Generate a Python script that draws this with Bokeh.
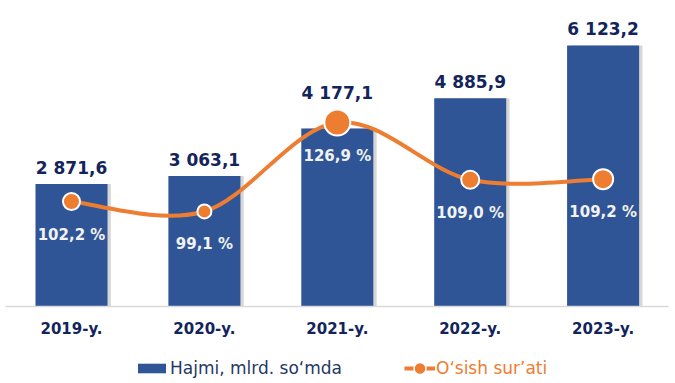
from bokeh.plotting import figure
from bokeh.models import (Range1d, FixedTicker, ColumnDataSource, Legend, LegendItem)
from bokeh.layouts import column
from bokeh.core.properties import value
from bokeh.embed import file_html
from bokeh.resources import INLINE

# ---- data ----
years = ["2019-y.", "2020-y.", "2021-y.", "2022-y.", "2023-y."]
volume = [2871.6, 3063.1, 4177.1, 4885.9, 6123.2]      # Hajmi, mlrd. so'mda
growth = [102.2, 99.1, 126.9, 109.0, 109.2]            # O'sish sur'ati, %

# ---- styles ----
marker_sizes = [17, 14, 26, 18, 20]
value_label_dy = [-16, -16, -35, -16, -16]
BAR = "#2F5597"
ORANGE = "#ED7D31"
NAVY = "#13245A"
FONT = "DejaVu Sans"

def fmt_vol(v):
    s = f"{v:,.1f}"
    return s.replace(",", " ").replace(".", ",")

def fmt_pct(v):
    return f"{v:.1f}".replace(".", ",") + " %"

xs = list(range(len(years)))

p = figure(width=675, height=345, output_backend="svg", toolbar_location=None,
           x_range=Range1d(-0.4966, 4.492), y_range=Range1d(0, 6944),
           y_axis_location=None, min_border_left=5, min_border_right=7,
           min_border_top=10, min_border_bottom=39)
p.extra_y_ranges = {"pct": Range1d(69.4, 161.9)}
p.outline_line_color = None
p.xgrid.visible = False
p.ygrid.visible = False

src = ColumnDataSource(dict(
    x=xs, xs=[x + 0.025 for x in xs], vol=volume, pct=growth,
    vlab=[fmt_vol(v) for v in volume], plab=[fmt_pct(v) for v in growth],
    ms=marker_sizes, vdy=value_label_dy))

# shadow + bars
p.vbar(x="xs", top="vol", bottom=-60, width=0.542, source=src,
       fill_color="#8a8a8a", fill_alpha=0.35, line_color=None)
p.vbar(x="x", top="vol", width=0.542, source=src, fill_color=BAR, line_color=None)

# value labels above bars
p.text(x="x", y="vol", text="vlab", source=src, text_align="center",
       text_baseline="alphabetic", y_offset="vdy", text_color=NAVY,
       text_font=value(FONT), text_font_style="bold", text_font_size="17px")

# smooth line (Catmull-Rom as Bezier segments)
n = len(xs)
x0s, y0s, x1s, y1s, cx0, cy0, cx1, cy1 = [], [], [], [], [], [], [], []
for i in range(n - 1):
    a = max(i - 1, 0)
    d = min(i + 2, n - 1)
    x0s.append(xs[i]); y0s.append(growth[i])
    x1s.append(xs[i + 1]); y1s.append(growth[i + 1])
    cx0.append(xs[i] + (xs[i + 1] - xs[a]) / 6.0)
    cy0.append(growth[i] + (growth[i + 1] - growth[a]) / 6.0)
    cx1.append(xs[i + 1] - (xs[d] - xs[i]) / 6.0)
    cy1.append(growth[i + 1] - (growth[d] - growth[i]) / 6.0)
p.bezier(x0=x0s, y0=y0s, x1=x1s, y1=y1s, cx0=cx0, cy0=cy0, cx1=cx1, cy1=cy1,
         line_color=ORANGE, line_width=4, y_range_name="pct")
p.scatter(x="x", y="pct", size="ms", source=src, fill_color=ORANGE,
          line_color="white", line_width=2, y_range_name="pct")

# percent labels
p.text(x="x", y="pct", text="plab", source=src, text_align="center",
       text_baseline="middle", y_offset=33, text_color="#F2F2F2",
       text_font=value(FONT), text_font_style="bold", text_font_size="15px",
       y_range_name="pct")

# x axis
ax = p.xaxis[0]
ax.ticker = FixedTicker(ticks=xs)
ax.major_label_overrides = {i: y for i, y in zip(xs, years)}
ax.axis_line_color = "#D9D9D9"
ax.axis_line_width = 1.5
ax.major_tick_line_color = None
ax.minor_tick_line_color = None
ax.major_tick_out = 0
ax.major_tick_in = 0
ax.major_label_standoff = 13
ax.major_label_text_font = FONT
ax.major_label_text_font_style = "bold"
ax.major_label_text_font_size = "15px"
ax.major_label_text_color = NAVY

# ---- legend strip ----
q = figure(width=675, height=38, output_backend="svg", toolbar_location=None,
           x_range=Range1d(0, 675), y_range=Range1d(0, 38),
           x_axis_location=None, y_axis_location=None,
           min_border_left=0, min_border_right=0, min_border_top=0, min_border_bottom=0)
q.outline_line_color = None
q.xgrid.visible = False
q.ygrid.visible = False
# legend-only renderers placed outside the visible range
db = q.vbar(x=[-100], top=[-100], bottom=[-101], width=1, fill_color=BAR, line_color=None)
dl = q.line(x=[-100, -99], y=[-100, -100], line_color=ORANGE, line_width=4)
dm = q.scatter(x=[-100], y=[-100], fill_color=ORANGE, line_color="white", line_width=1.5)

leg1 = Legend(items=[LegendItem(label="Hajmi, mlrd. so‘mda", renderers=[db])],
              location=(129, 5), glyph_width=35, glyph_height=12, label_standoff=1,
              padding=0, margin=0, border_line_color=None, background_fill_alpha=0,
              label_text_font=FONT, label_text_font_size="17px", label_text_color="#1F3864",
              label_height=20)
leg2 = Legend(items=[LegendItem(label="O‘sish sur’ati", renderers=[dl, dm])],
              location=(399, 0), glyph_width=31, glyph_height=30, label_standoff=1,
              padding=0, margin=0, border_line_color=None, background_fill_alpha=0,
              label_text_font=FONT, label_text_font_size="17px", label_text_color=ORANGE)
q.add_layout(leg1)
q.add_layout(leg2)

layout = column(p, q, spacing=0)
open("out.html", "w").write(file_html(layout, INLINE))
